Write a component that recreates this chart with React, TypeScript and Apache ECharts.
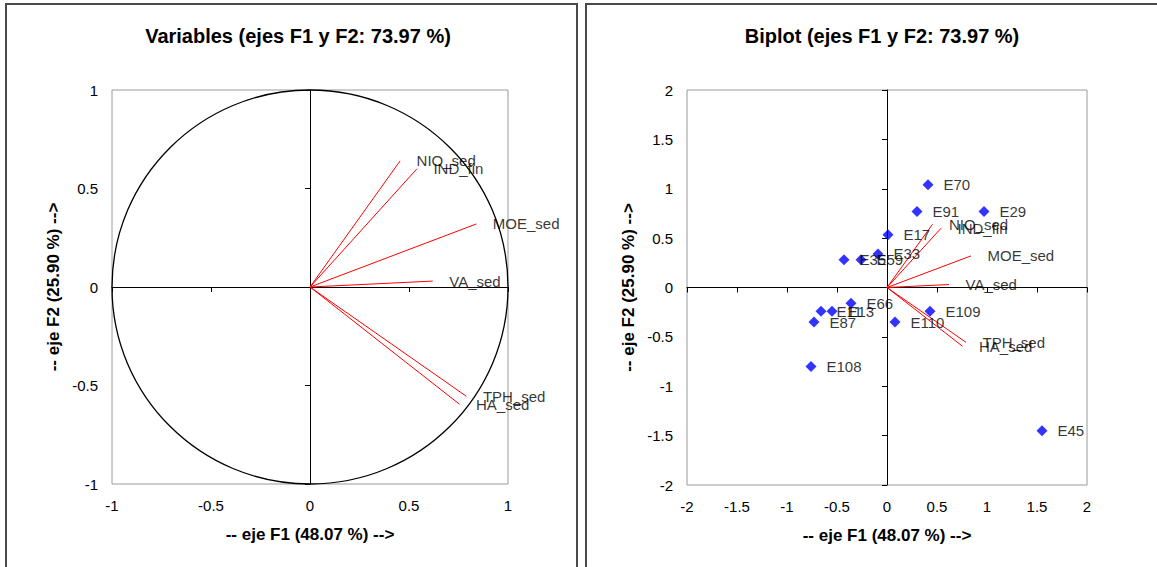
import React, { useEffect, useRef } from "react";
import * as echarts from "echarts";

// Variables (loadings on F1 / F2)
const variableNames = ["NIO_sed", "IND_fin", "MOE_sed", "VA_sed", "TPH_sed", "HA_sed"];
const variableF1 = [0.455, 0.54, 0.84, 0.62, 0.79, 0.755];
const variableF2 = [0.64, 0.6, 0.32, 0.03, -0.555, -0.595];

// Observations (scores on F1 / F2)
const obsNames = ["E70", "E29", "E91", "E17", "E33", "E35", "E59", "E66", "E11", "E13", "E87", "E109", "E110", "E108", "E45"];
const obsF1 = [0.41, 0.97, 0.3, 0.01, -0.09, -0.43, -0.26, -0.36, -0.66, -0.55, -0.73, 0.43, 0.08, -0.76, 1.55];
const obsF2 = [1.04, 0.77, 0.77, 0.535, 0.34, 0.28, 0.28, -0.16, -0.24, -0.24, -0.35, -0.24, -0.35, -0.8, -1.45];

// Axis ranges
const varRange = { min: -1, max: 1, interval: 0.5 };
const biRange = { min: -2, max: 2, interval: 0.5 };

const titles = ["Variables (ejes F1 y F2: 73.97 %)", "Biplot (ejes F1 y F2: 73.97 %)"];
const xName = "-- eje F1 (48.07 %) -->";
const yName = "-- eje F2 (25.90 %) -->";

const FONT = "'Liberation Sans', Arial, sans-serif";

export default function App() {
  const ref = useRef<HTMLDivElement>(null);

  useEffect(() => {
    if (!ref.current) return;
    const chart = echarts.init(ref.current, null, { renderer: "svg" });

    const labelAxisX = (gi: number, r: any) => ({
      gridIndex: gi,
      type: "value",
      ...r,
      position: "bottom",
      axisLine: { show: false, onZero: false },
      axisTick: { show: false },
      splitLine: { show: false },
      axisLabel: { margin: 14, fontSize: 15, color: "#000", fontFamily: FONT },
      name: xName,
      nameLocation: "middle",
      nameGap: 42,
      nameTextStyle: { fontSize: 17, fontWeight: "bold", color: "#000", fontFamily: FONT },
    });
    const zeroAxisX = (gi: number, r: any) => ({
      gridIndex: gi,
      type: "value",
      ...r,
      position: "top",
      axisLine: { show: true, onZero: true, lineStyle: { color: "#000", width: 1 } },
      axisTick: { show: true, inside: true, length: 5, lineStyle: { color: "#000" } },
      axisLabel: { show: false },
      splitLine: { show: false },
    });
    const labelAxisY = (gi: number, r: any) => ({
      gridIndex: gi,
      type: "value",
      ...r,
      position: "left",
      axisLine: { show: false, onZero: false },
      axisTick: { show: false },
      splitLine: { show: false },
      axisLabel: { margin: 14, fontSize: 15, color: "#000", fontFamily: FONT },
      name: yName,
      nameLocation: "middle",
      nameRotate: 90,
      nameGap: 50,
      nameTextStyle: { fontSize: 17, fontWeight: "bold", color: "#000", fontFamily: FONT },
    });
    const zeroAxisY = (gi: number, r: any) => ({
      gridIndex: gi,
      type: "value",
      ...r,
      position: "right",
      axisLine: { show: true, onZero: true, lineStyle: { color: "#000", width: 1 } },
      axisTick: { show: true, inside: true, length: 5, lineStyle: { color: "#000" } },
      axisLabel: { show: false },
      splitLine: { show: false },
    });

    const vectorSeries = (xi: number, yi: number) =>
      variableNames.map((n, i) => ({
        type: "line",
        name: n,
        xAxisIndex: xi,
        yAxisIndex: yi,
        data: [
          [0, 0],
          [variableF1[i], variableF2[i]],
        ],
        symbol: "none",
        lineStyle: { color: "#ff0000", width: 1 },
        silent: true,
        z: 3,
      }));

    const vectorLabels = (xi: number, yi: number) => ({
      type: "scatter",
      xAxisIndex: xi,
      yAxisIndex: yi,
      symbolSize: 1,
      itemStyle: { color: "rgba(0,0,0,0)" },
      data: variableNames.map((n, i) => ({ name: n, value: [variableF1[i], variableF2[i]] })),
      label: {
        show: true,
        position: "right",
        distance: 16,
        formatter: "{b}",
        color: "#000",
        fontSize: 15,
        fontFamily: FONT,
      },
      silent: true,
      z: 4,
    });

    const option: any = {
      animation: false,
      backgroundColor: "#fff",
      grid: [
        { left: 112, top: 90, width: 396, height: 394, show: true, borderColor: "#9a9a9a", borderWidth: 1, backgroundColor: "transparent" },
        { left: 687, top: 90, width: 400, height: 395, show: true, borderColor: "#9a9a9a", borderWidth: 1, backgroundColor: "transparent" },
      ],
      xAxis: [labelAxisX(0, varRange), zeroAxisX(0, varRange), labelAxisX(1, biRange), zeroAxisX(1, biRange)],
      yAxis: [labelAxisY(0, varRange), zeroAxisY(0, varRange), labelAxisY(1, biRange), zeroAxisY(1, biRange)],
      series: [
        ...vectorSeries(0, 0),
        vectorLabels(0, 0),
        ...vectorSeries(2, 2),
        vectorLabels(2, 2),
        {
          type: "scatter",
          xAxisIndex: 2,
          yAxisIndex: 2,
          symbol: "diamond",
          symbolSize: 11,
          itemStyle: { color: "#0000ff" },
          data: obsNames.map((n, i) => ({ name: n, value: [obsF1[i], obsF2[i]] })),
          label: {
            show: true,
            position: "right",
            distance: 10,
            formatter: "{b}",
            color: "#000",
            fontSize: 15,
            fontFamily: FONT,
          },
          z: 5,
        },
      ],
      graphic: [
        { id: "panelL", type: "rect", shape: { x: 6, y: 4, width: 571, height: 640 }, style: { fill: "none", stroke: "#4a4a4a", lineWidth: 2 }, silent: true },
        { id: "panelR", type: "rect", shape: { x: 586, y: 4, width: 640, height: 640 }, style: { fill: "none", stroke: "#4a4a4a", lineWidth: 2 }, silent: true },
        { id: "titleL", type: "text", x: 298, y: 36, style: { text: titles[0], fontSize: 20, fontWeight: "bold", fontFamily: FONT, fill: "#000", align: "center", verticalAlign: "middle" }, silent: true },
        { id: "titleR", type: "text", x: 882, y: 36, style: { text: titles[1], fontSize: 20, fontWeight: "bold", fontFamily: FONT, fill: "#000", align: "center", verticalAlign: "middle" }, silent: true },
      ],
    };

    chart.setOption(option);

    const c = chart.convertToPixel({ xAxisIndex: 0, yAxisIndex: 0 }, [0, 0]) as number[];
    const p = chart.convertToPixel({ xAxisIndex: 0, yAxisIndex: 0 }, [1, 1]) as number[];
    if (c && p) {
      chart.setOption({
        graphic: [
          {
            id: "circle",
            type: "ellipse",
            shape: { cx: c[0], cy: c[1], rx: p[0] - c[0], ry: c[1] - p[1] },
            style: { fill: "none", stroke: "#000", lineWidth: 1.3 },
            silent: true,
            z: 2,
          },
        ],
      });
    }

    return () => chart.dispose();
  }, []);

  return <div ref={ref} style={{ position: "absolute", left: 0, top: 0, width: 1157, height: 567 }} />;
}
